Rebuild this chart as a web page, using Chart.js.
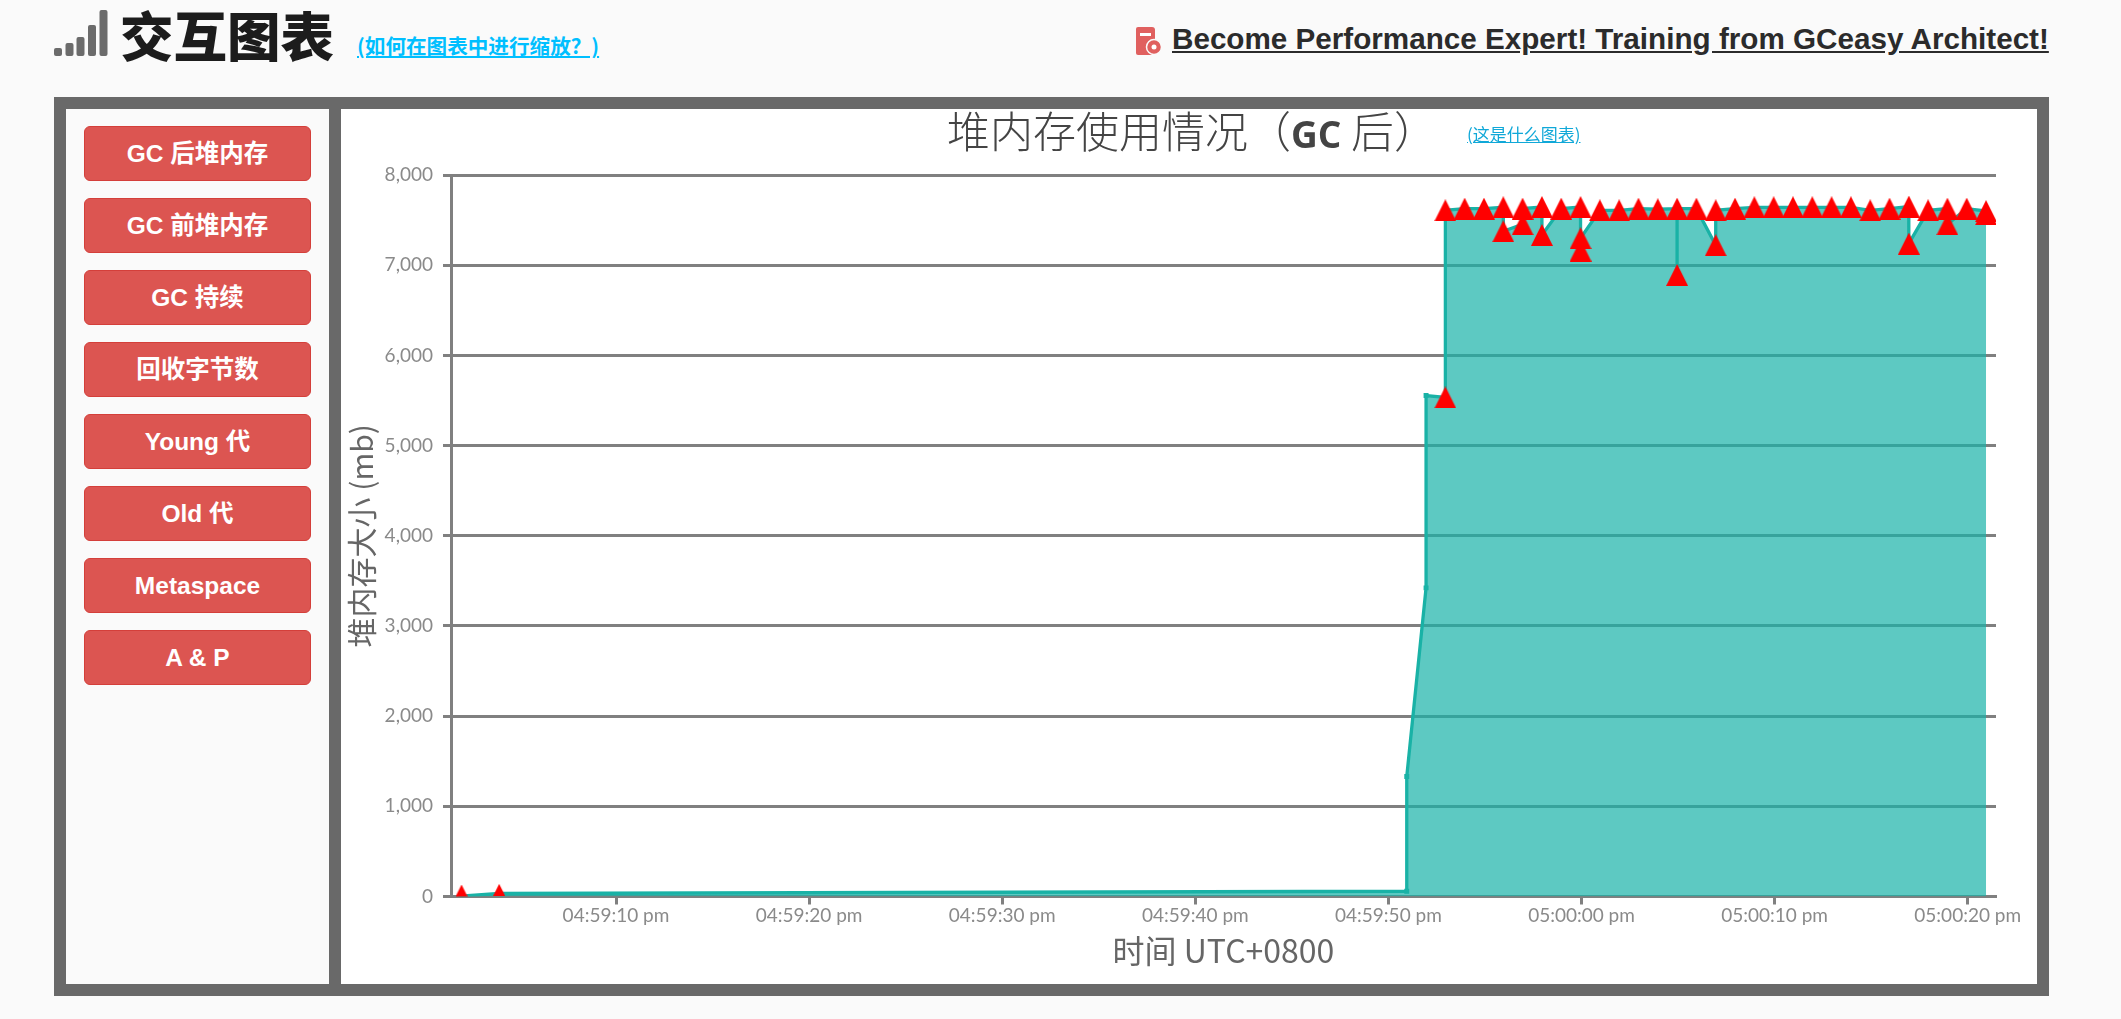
<!DOCTYPE html>
<html lang="zh">
<head>
<meta charset="utf-8">
<title>交互图表</title>
<script src="https://cdn.jsdelivr.net/npm/chart.js@4/dist/chart.umd.min.js"></script>
<style>
  html, body { margin: 0; height: 100%; background: #fafafa; overflow: hidden; }
  body { position: relative; width: 2121px; height: 1019px; font-family: "Liberation Sans", "Noto Sans CJK SC", sans-serif; }
  .abs { position: absolute; white-space: nowrap; }
  #heading { left: 120px; top: 3px; font: 900 53.5px/62px "Noto Sans CJK SC", sans-serif; color: #1c1c1c; }
  #zoom-link { left: 357px; top: 31px; font: bold 20.6px/28px "Noto Sans CJK SC", sans-serif; color: #00bfff; text-decoration: underline; }
  #promo { left: 1172px; top: 20px; font: bold 29.65px/38px "Liberation Sans", sans-serif; color: #2b2b2b; text-decoration: underline; }
  #frame { left: 54px; top: 97px; width: 1995px; height: 899px; background: #696969; }
  #sidebar { left: 66px; top: 109px; width: 263px; height: 875px; background: #fafafa; }
  #chart-box { left: 341px; top: 109px; width: 1696px; height: 875px; background: #fff; }
  #chart-title { left: 947px; top: 105px; font: 300 43px/48px "Noto Sans CJK SC", sans-serif; color: #444; }
  #chart-title b { font: 700 37px/48px "Open Sans", sans-serif; }
  #what-link { left: 1467px; top: 122px; font: 17px/24px "Noto Sans CJK SC", sans-serif; color: #10a8d8; text-decoration: underline; }
  .btn { left: 84px; width: 225px; height: 53px; border: 1px solid #d43f3a; border-radius: 6px; background: #dc5551;
         color: #fff; font: bold 24.5px/53px "Liberation Sans", "Noto Sans CJK SC", sans-serif; text-align: center; }
</style>
</head>
<body>
<svg class="abs" style="left:54px;top:10px" width="54" height="46">
  <g fill="#6b6b6b">
    <rect x="0" y="38" width="8" height="8" rx="2"/>
    <rect x="11.5" y="33" width="8" height="13" rx="2"/>
    <rect x="22.5" y="27" width="8" height="19" rx="2"/>
    <rect x="34" y="15" width="8" height="31" rx="2"/>
    <rect x="45.5" y="0" width="8" height="46" rx="2"/>
  </g>
</svg>
<div class="abs" id="heading">交互图表</div>
<div class="abs" id="zoom-link">(如何在图表中进行缩放？)</div>
<svg class="abs" style="left:1136px;top:27px" width="26" height="28">
  <path d="M2 0h14a3 3 0 0 1 3 3v22a3 3 0 0 1-3 3H2a2 2 0 0 1-2-2V2a2 2 0 0 1 2-2z" fill="#e0605f"/>
  <rect x="4" y="6" width="11" height="3" fill="#fff"/>
  <circle cx="18" cy="20" r="7.5" fill="#e0605f" stroke="#fafafa" stroke-width="1.5"/>
  <circle cx="18" cy="20" r="2.5" fill="#fff"/>
</svg>
<div class="abs" id="promo">Become Performance Expert! Training from GCeasy Architect!</div>

<div class="abs" id="frame"></div>
<div class="abs" id="sidebar"></div>
<div class="abs" id="chart-box"><canvas id="heap-chart" width="1696" height="875" style="display:block;width:1696px;height:875px"></canvas></div>
<div class="abs" id="chart-title">堆内存使用情况（<b>GC</b> 后）</div>
<div class="abs" id="what-link">(这是什么图表)</div>

<script>
// Sidebar buttons
const buttonLabels = ['GC 后堆内存', 'GC 前堆内存', 'GC 持续', '回收字节数', 'Young 代', 'Old 代', 'Metaspace', 'A & P'];

// Seconds after 04:59:00 pm, heap size in mb
const lineSeconds = [
    1.95, 3.95, 50.95, 50.95, 51.95, 51.95, 52.95, 52.95, 53.95, 54.95, 55.95, 55.95, 56.95, 56.95,
    57.95, 57.95, 58.95, 59.95, 59.95, 59.95, 60.95, 61.95, 62.95, 63.95, 64.95, 64.95, 64.95, 65.95,
    66.95, 66.95, 67.95, 68.95, 69.95, 70.95, 71.95, 72.95, 73.95, 74.95, 75.95, 76.95, 76.95, 77.95,
    78.95, 78.95, 79.95, 80.95, 80.95
];
const lineHeap = [
    5, 33, 58, 1330, 3422, 5554, 5533, 7608, 7627, 7627, 7642, 7376, 7453, 7627,
    7645, 7335, 7627, 7645, 7162, 7298, 7608, 7608, 7627, 7620, 7627, 6892, 7627, 7627,
    7221, 7608, 7627, 7642, 7642, 7642, 7642, 7642, 7642, 7608, 7627, 7650, 7239, 7608,
    7627, 7453, 7627, 7600, 7565
];

// Red triangle markers
const markerSeconds = [
    52.95, 52.95, 53.95, 54.95, 55.95, 55.95, 56.95, 56.95, 57.95, 57.95, 58.95, 59.95, 59.95, 59.95,
    60.95, 61.95, 62.95, 63.95, 64.95, 64.95, 65.95, 66.95, 66.95, 67.95, 68.95, 69.95, 70.95, 71.95,
    72.95, 73.95, 74.95, 75.95, 76.95, 76.95, 77.95, 78.95, 78.95, 79.95, 80.95, 80.95
];
const markerHeap = [
    5533, 7608, 7627, 7627, 7642, 7376, 7627, 7453, 7645, 7335, 7627, 7645, 7298, 7162,
    7608, 7608, 7627, 7620, 7627, 6892, 7627, 7608, 7221, 7627, 7642, 7642, 7642, 7642,
    7642, 7642, 7608, 7627, 7650, 7239, 7608, 7627, 7453, 7627, 7600, 7565
];

// The two small markers at the start
const smallMarkerSeconds = [2.0, 3.95];
const smallMarkerHeap = [66, 74];

const yTicks = [0, 1000, 2000, 3000, 4000, 5000, 6000, 7000, 8000];
const xTickSeconds = [10, 20, 30, 40, 50, 60, 70, 80];
const xTickLabels = ['04:59:10 pm', '04:59:20 pm', '04:59:30 pm', '04:59:40 pm', '04:59:50 pm', '05:00:00 pm', '05:00:10 pm', '05:00:20 pm'];

const xMin = 1.455, xMax = 81.465;
const gridGray = '#808080';
const tickFont = { family: 'Lato', size: 19 };
const axisTitleFont = { family: '"Noto Sans CJK SC"', size: 30, weight: '400' };

buttonLabels.forEach(function(label, i) {
    const btn = document.createElement('div');
    btn.className = 'abs btn';
    btn.style.top = (126 + i * 72) + 'px';
    btn.textContent = label;
    document.body.appendChild(btn);
});

function toPoints(xs, ys) {
    return xs.map((x, i) => ({ x: x, y: ys[i] }));
}

// Marker sprite, centred on the data point
function triangleSprite(w, h) {
    const c = document.createElement('canvas');
    c.width = w;
    c.height = h;
    const g = c.getContext('2d');
    g.fillStyle = '#ff0000';
    g.beginPath();
    g.moveTo(w / 2, 0);
    g.lineTo(w, h);
    g.lineTo(0, h);
    g.closePath();
    g.fill();
    return c;
}

new Chart(document.getElementById('heap-chart'), {
    type: 'line',
    data: {
        datasets: [
            {
                label: 'Markers',
                data: toPoints(markerSeconds, markerHeap),
                showLine: false,
                pointStyle: triangleSprite(22, 22),
                pointRadius: 10
            },
            {
                label: 'Small markers',
                data: toPoints(smallMarkerSeconds, smallMarkerHeap),
                showLine: false,
                pointStyle: triangleSprite(12, 12),
                pointRadius: 6
            },
            {
                label: '堆内存大小',
                data: toPoints(lineSeconds, lineHeap),
                borderColor: '#19b2a6',
                borderWidth: 3.3,
                backgroundColor: 'rgba(24, 178, 168, 0.7)',
                fill: 'origin',
                tension: 0,
                pointStyle: 'rect',
                pointRadius: 3.5,
                pointBackgroundColor: '#19b2a6',
                pointBorderWidth: 0
            }
        ]
    },
    options: {
        responsive: false,
        animation: false,
        layout: { padding: { top: 66, right: 41, bottom: 0, left: 0 } },
        plugins: { legend: { display: false }, title: { display: false }, tooltip: { enabled: false } },
        scales: {
            x: {
                type: 'linear',
                min: xMin,
                max: xMax,
                afterFit: function(scale) { scale.height = 87.5; },
                afterBuildTicks: function(scale) {
                    scale.ticks = xTickSeconds.map(v => ({ value: v }));
                },
                grid: { drawOnChartArea: false, tickLength: 8, tickWidth: 3, tickColor: gridGray },
                border: { color: gridGray, width: 3 },
                ticks: {
                    font: tickFont,
                    color: '#8a8a8a',
                    padding: 0,
                    maxRotation: 0,
                    autoSkip: false,
                    callback: function(value) { return xTickLabels[xTickSeconds.indexOf(value)]; }
                },
                title: { display: true, text: '时间 UTC+0800', font: { family: '"Noto Sans CJK SC"', size: 32, weight: '400' }, color: '#666', padding: { top: 0, bottom: 14 } }
            },
            y: {
                min: 0,
                max: 8000,
                afterFit: function(scale) { scale.width = 110; },
                afterBuildTicks: function(scale) {
                    scale.ticks = yTicks.map(v => ({ value: v }));
                },
                grid: { color: gridGray, lineWidth: 3, tickLength: 8, tickWidth: 3, tickColor: gridGray },
                border: { color: gridGray, width: 3 },
                ticks: {
                    font: tickFont,
                    color: '#8a8a8a',
                    padding: 10,
                    callback: function(value) { return value.toLocaleString('en-US'); }
                },
                title: { display: true, text: '堆内存大小 (mb)', font: axisTitleFont, color: '#666', padding: { top: 3, bottom: 0 } }
            }
        }
    }
});
</script>
</body>
</html>
